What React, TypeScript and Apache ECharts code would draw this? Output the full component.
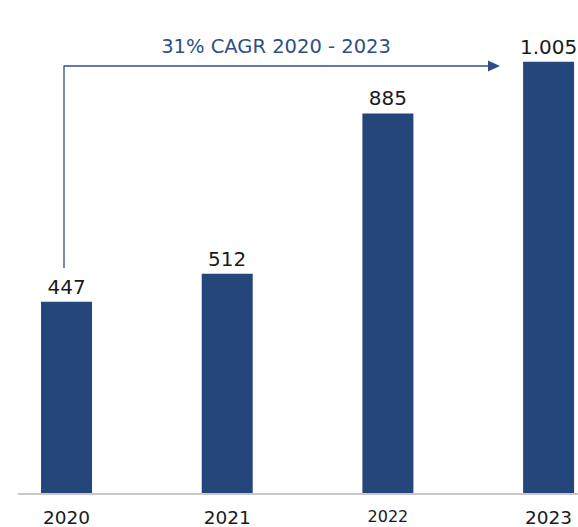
import React, { useEffect, useRef } from "react";
import * as echarts from "echarts";

const categories = ["2020", "2021", "2022", "2023"];
const values = [447, 512, 885, 1005];
const valueLabels = ["447", "512", "885", "1.005"];
const annotation = "31% CAGR 2020 - 2023";

const BAR = "#25467A";
const FONT = "DejaVu Sans";

export default function App() {
  const ref = useRef<HTMLDivElement>(null);
  useEffect(() => {
    if (!ref.current) return;
    const chart = echarts.init(ref.current, undefined, { renderer: "svg" });
    chart.setOption({
      animation: false,
      grid: { left: 0, right: 0, top: 21, bottom: 33, containLabel: false },
      xAxis: {
        type: "value",
        min: -0.414,
        max: 3.183,
        axisLine: { show: false },
        axisTick: { show: false },
        splitLine: { show: false },
        axisLabel: {
          customValues: categories.map((_, i) => i),
          color: "#1a1a1a",
          fontSize: 18.5,
          fontFamily: FONT,
          margin: 14,
          formatter: (v: number) => {
            const c = categories[Math.round(v)] ?? "";
            return c === "2022" ? `{s|${c}}` : c;
          },
          rich: { s: { fontSize: 16, fontFamily: FONT, color: "#1a1a1a" } },
        },
      },
      yAxis: {
        type: "value",
        min: 0,
        max: 1100,
        show: false,
        splitLine: { show: false },
      },
      series: [
        {
          type: "bar",
          data: values.map((v, i) => [i, v]),
          barWidth: 51,
          itemStyle: { color: BAR },
          label: {
            show: true,
            position: "top",
            distance: 5,
            color: "#1a1a1a",
            fontSize: 20,
            fontFamily: FONT,
            formatter: (p: any) => valueLabels[p.dataIndex],
          },
        },
      ],
      graphic: [
        {
          type: "line",
          shape: { x1: 18, y1: 494, x2: 578, y2: 494 },
          style: { stroke: "#c8c8c8", lineWidth: 2 },
          z: 10,
        },
        {
          type: "polyline",
          shape: { points: [[64, 268], [64, 66], [490, 66]] },
          style: { stroke: "#2F4F86", lineWidth: 1.3, fill: null },
        },
        {
          type: "polygon",
          shape: { points: [[488, 60.5], [500, 66], [488, 71.5]] },
          style: { fill: "#2F4F86" },
        },
        {
          type: "text",
          x: 276,
          y: 46,
          style: {
            text: annotation,
            fill: "#2F4F86",
            fontSize: 19.5,
            fontFamily: FONT,
            align: "center",
            verticalAlign: "middle",
          },
        },
      ],
    });
    return () => chart.dispose();
  }, []);
  return (
    <div
      ref={ref}
      style={{ position: "fixed", left: 0, top: 0, width: 578, height: 527, background: "#fff" }}
    />
  );
}
